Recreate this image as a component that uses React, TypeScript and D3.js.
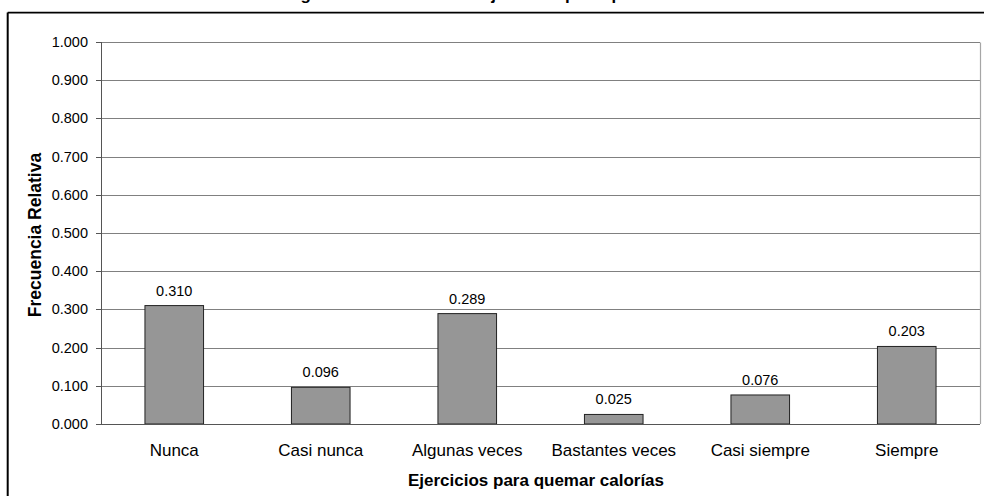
import React from "react";
import * as d3 from "d3";

const categories = ["Nunca", "Casi nunca", "Algunas veces", "Bastantes veces", "Casi siempre", "Siempre"];
const values = [0.31, 0.096, 0.289, 0.025, 0.076, 0.203];
const yTicks = [0, 0.1, 0.2, 0.3, 0.4, 0.5, 0.6, 0.7, 0.8, 0.9, 1.0];
const title = "Histograma de frecuencias Ejercicios para quemar calorías";
const xTitle = "Ejercicios para quemar calorías";
const yTitle = "Frecuencia Relativa";

const W = 984;
const H = 496;
const left = 101;
const right = 980;
const top = 42;
const bottom = 424;
const font = "'Liberation Sans', Arial, sans-serif";

export default function App() {
  const x = d3.scaleBand<string>().domain(categories).range([left, right]).paddingInner(0.6).paddingOuter(0.3);
  const y = d3.scaleLinear().domain([0, 1]).range([bottom, top]);
  const fmt = d3.format(".3f");

  return (
    <svg width={W} height={H} style={{ position: "absolute", left: 0, top: 0, background: "#fff" }} fontFamily={font}>
      <rect x={0} y={0} width={W} height={H} fill="#fff" />
      {/* outer chart border */}
      <line x1={7.7} x2={W + 5} y1={12.6} y2={12.6} stroke="#000" strokeWidth={1.6} />
      <line x1={7.7} x2={7.7} y1={12.6} y2={H + 5} stroke="#000" strokeWidth={2} />
      {/* title (partially clipped, as in the reference) */}
      <text x={497} y={0} textAnchor="middle" fontSize={17} fontWeight="bold" fill="#000">{title}</text>

      {/* gridlines */}
      {yTicks.map((t) => (
        <line key={"g" + t} x1={left} x2={right} y1={Math.round(y(t)) + 0.5} y2={Math.round(y(t)) + 0.5} stroke="#808080" strokeWidth={1} />
      ))}
      {/* plot right border */}
      <line x1={right + 0.5} x2={right + 0.5} y1={Math.round(y(1)) + 0.5} y2={bottom} stroke="#a6a6a6" strokeWidth={1.2} />

      {/* bars */}
      {categories.map((c, i) => (
        <rect key={c} x={x(c)!} y={y(values[i])} width={x.bandwidth()} height={bottom - y(values[i])} fill="#969696" stroke="#222" strokeWidth={1} />
      ))}
      {/* value labels */}
      {categories.map((c, i) => (
        <text key={"v" + c} x={x(c)! + x.bandwidth() / 2} y={y(values[i]) - 10} textAnchor="middle" fontSize={14.5} fill="#000">{fmt(values[i])}</text>
      ))}

      {/* y axis */}
      <line x1={left + 0.5} x2={left + 0.5} y1={top} y2={bottom + 0.5} stroke="#555" strokeWidth={1} />
      {yTicks.map((t) => (
        <g key={"t" + t}>
          <line x1={96} x2={left} y1={Math.round(y(t)) + 0.5} y2={Math.round(y(t)) + 0.5} stroke="#555" strokeWidth={1} />
          <text x={88} y={y(t) + 5} textAnchor="end" fontSize={14.5} fill="#000">{fmt(t)}</text>
        </g>
      ))}
      {/* x axis */}
      <line x1={left} x2={right} y1={bottom + 0.5} y2={bottom + 0.5} stroke="#555" strokeWidth={1.2} />
      {categories.map((c) => (
        <text key={"x" + c} x={x(c)! + x.bandwidth() / 2} y={456} textAnchor="middle" fontSize={17} fill="#000">{c}</text>
      ))}

      {/* axis titles */}
      <text x={536} y={486} textAnchor="middle" fontSize={17} fontWeight="bold" fill="#000">{xTitle}</text>
      <text transform={`translate(41,235) rotate(-90)`} textAnchor="middle" fontSize={17.5} fontWeight="bold" fill="#000">{yTitle}</text>
    </svg>
  );
}
